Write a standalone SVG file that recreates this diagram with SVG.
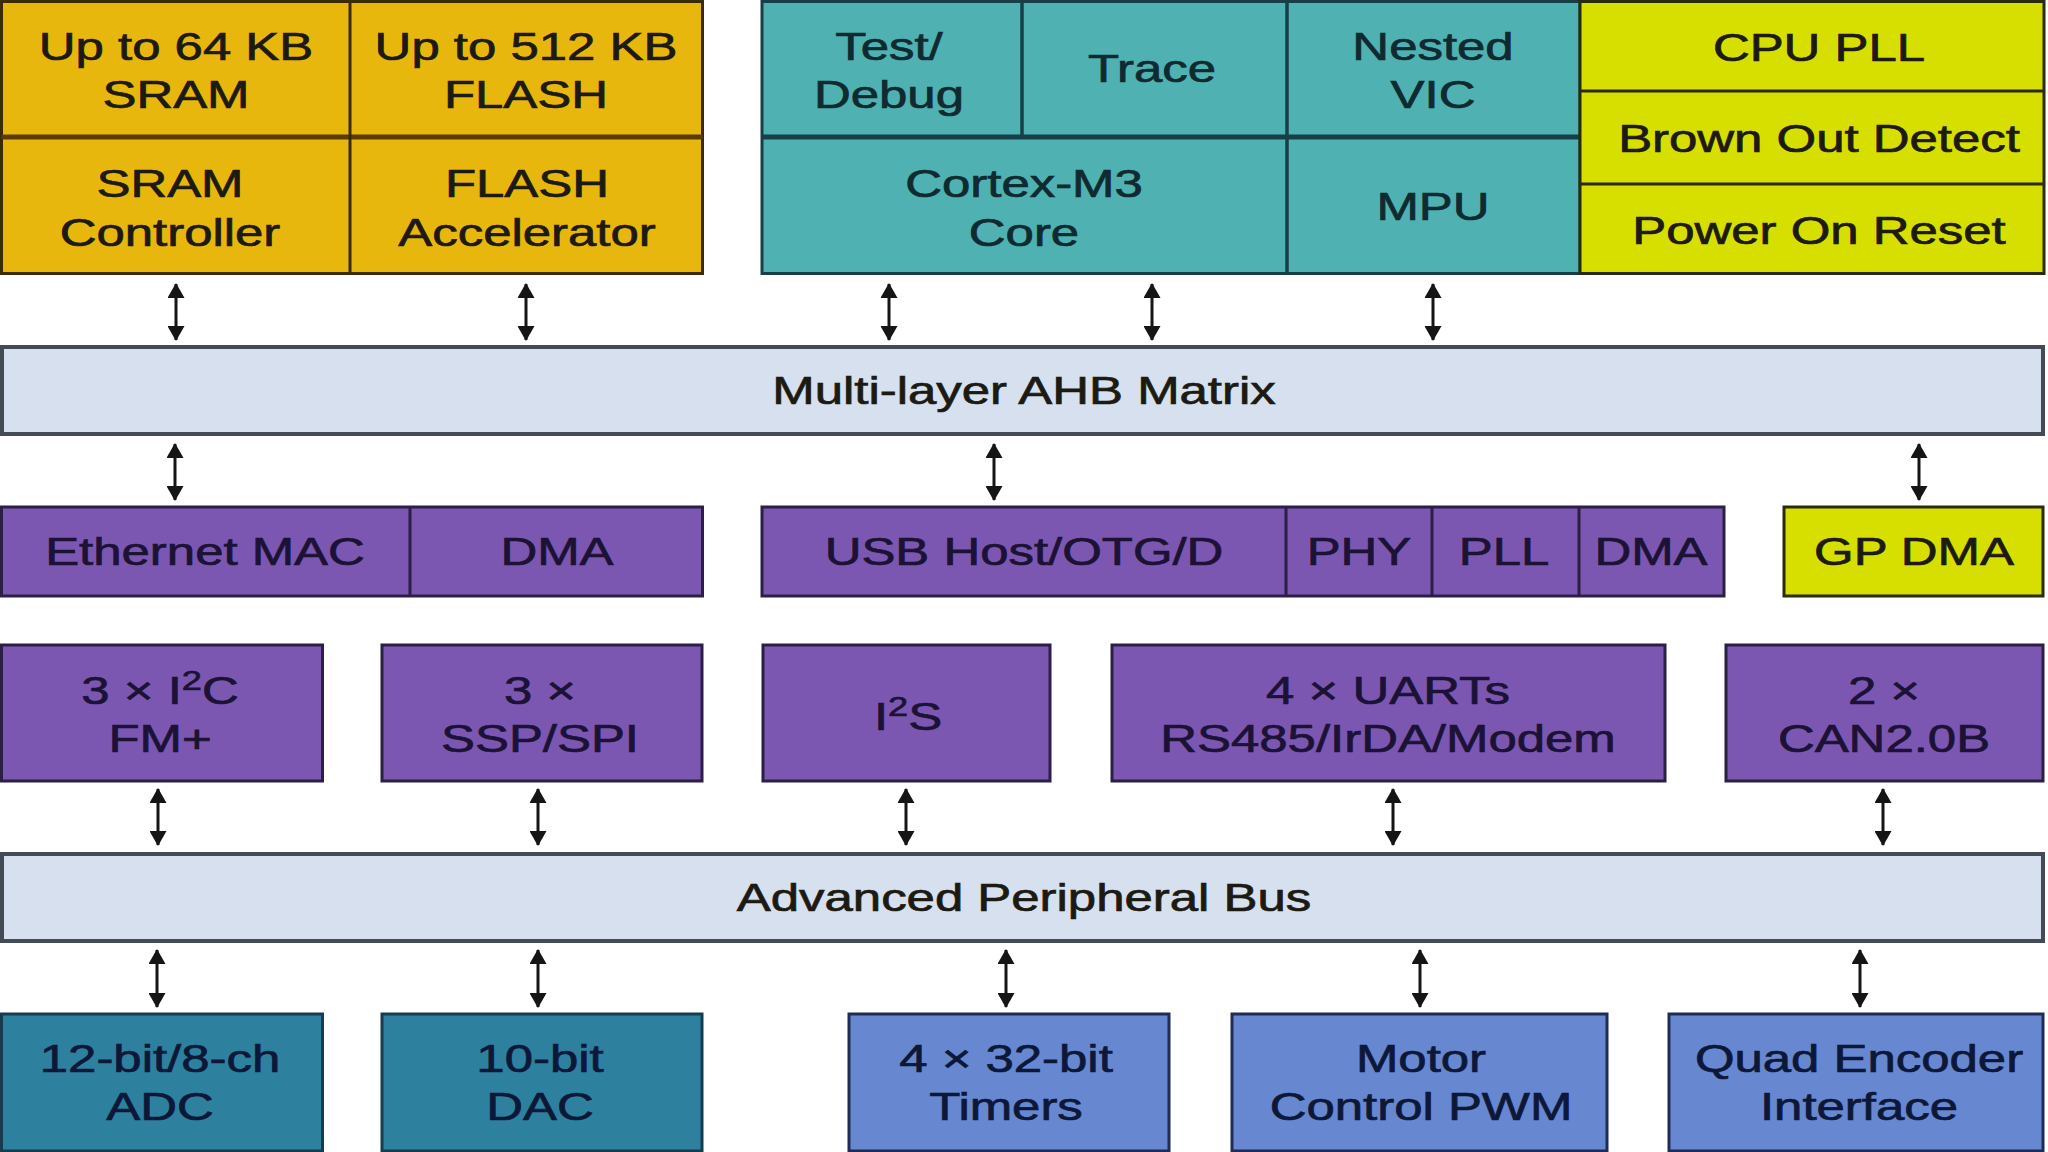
<svg xmlns="http://www.w3.org/2000/svg" width="2048" height="1152" viewBox="0 0 2048 1152">
<style>
  text { font-family: "Liberation Sans", Arial, Helvetica, sans-serif; font-size: 38px; text-anchor: middle; fill: #1c1a12; stroke: #1c1a12; stroke-width: 0.7px; }
  .mem { fill: #e8b70e; stroke: #3a2a06; stroke-width: 3; }
  .memdiv { stroke: #5a3a06; stroke-width: 5; fill: none; }
  .memv { stroke: #3a2a06; stroke-width: 3; fill: none; }
  .teal { fill: #4fb1b2; stroke: #173f48; stroke-width: 3; }
  .tealdiv { stroke: #173f48; stroke-width: 5; fill: none; }
  .tealv { stroke: #173f48; stroke-width: 3.5; fill: none; }
  .yg { fill: #d6df00; stroke: #2a2a10; stroke-width: 3; }
  .ygdiv { stroke: #2a2a10; stroke-width: 3; fill: none; }
  .bus { fill: #d6e0ee; stroke: #444b55; stroke-width: 4; }
  .pur { fill: #7c57b2; stroke: #2b1f45; stroke-width: 3; }
  .purdiv { stroke: #2b1f45; stroke-width: 3; fill: none; }
  .dk { fill: #2e809f; stroke: #173c50; stroke-width: 3; }
  .lb { fill: #6787d1; stroke: #1f2c55; stroke-width: 3; }
  text.tt { fill: #0f2a30; stroke: #0f2a30; }
  text.pt { fill: #1c1236; stroke: #1c1236; }
  text.bt { fill: #0d1838; stroke: #0d1838; }
  .conn line { stroke: #151515; stroke-width: 3; marker-start: url(#ah); marker-end: url(#ah); }
</style>
<defs>
  <marker id="ah" markerUnits="userSpaceOnUse" markerWidth="15" markerHeight="17" refX="14" refY="8.5" orient="auto-start-reverse" viewBox="0 0 15 17">
    <path d="M0,0 L15,8.5 L0,17 z" fill="#151515"/>
  </marker>
</defs>
<rect width="2048" height="1152" fill="#ffffff"/>

<!-- Memory block -->
<g id="memory">
  <rect class="mem" x="1.5" y="1.5" width="701" height="272"/>
  <line class="memdiv" x1="1.5" y1="137" x2="702.5" y2="137"/>
  <line class="memv" x1="350" y1="1.5" x2="350" y2="273.5"/>
</g>
<g id="sram">
  <text transform="translate(176,0) scale(1.34,1)"><tspan x="0" y="60">Up to 64 KB</tspan><tspan x="0" y="108">SRAM</tspan></text>
</g>
<g id="flash">
  <text transform="translate(526,0) scale(1.34,1)"><tspan x="0" y="60">Up to 512 KB</tspan><tspan x="0" y="108">FLASH</tspan></text>
</g>
<g id="sram-ctrl">
  <text transform="translate(170,0) scale(1.34,1)"><tspan x="0" y="197">SRAM</tspan><tspan x="0" y="246">Controller</tspan></text>
</g>
<g id="flash-acc">
  <text transform="translate(527,0) scale(1.34,1)"><tspan x="0" y="197">FLASH</tspan><tspan x="0" y="246">Accelerator</tspan></text>
</g>

<!-- Core block -->
<g id="core-block">
  <rect class="teal" x="762" y="1.5" width="818" height="272"/>
  <line class="tealdiv" x1="762" y1="137" x2="1580" y2="137"/>
  <line class="tealv" x1="1022" y1="1.5" x2="1022" y2="137"/>
  <line class="tealv" x1="1287" y1="1.5" x2="1287" y2="273.5"/>
</g>
<g id="test-debug">
  <text class="tt" transform="translate(889,0) scale(1.34,1)"><tspan x="0" y="60">Test/</tspan><tspan x="0" y="108">Debug</tspan></text>
</g>
<g id="trace">
  <text class="tt" transform="translate(1152,0) scale(1.34,1)"><tspan x="0" y="82">Trace</tspan></text>
</g>
<g id="nvic">
  <text class="tt" transform="translate(1433,0) scale(1.34,1)"><tspan x="0" y="60">Nested</tspan><tspan x="0" y="108">VIC</tspan></text>
</g>
<g id="cortex">
  <text class="tt" transform="translate(1024,0) scale(1.34,1)"><tspan x="0" y="197">Cortex-M3</tspan><tspan x="0" y="246">Core</tspan></text>
</g>
<g id="mpu">
  <text class="tt" transform="translate(1433,0) scale(1.34,1)"><tspan x="0" y="220">MPU</tspan></text>
</g>

<!-- Clock/power block -->
<g id="power-block">
  <rect class="yg" x="1580" y="1.5" width="464" height="272"/>
  <line class="ygdiv" x1="1580" y1="91" x2="2044" y2="91"/>
  <line class="ygdiv" x1="1580" y1="184" x2="2044" y2="184"/>
</g>
<g id="cpu-pll">
  <text transform="translate(1819,0) scale(1.34,1)"><tspan x="0" y="61">CPU PLL</tspan></text>
</g>
<g id="bod">
  <text transform="translate(1819,0) scale(1.34,1)"><tspan x="0" y="152">Brown Out Detect</tspan></text>
</g>
<g id="por">
  <text transform="translate(1819,0) scale(1.34,1)"><tspan x="0" y="244">Power On Reset</tspan></text>
</g>

<!-- AHB -->
<g id="ahb">
  <rect class="bus" x="2" y="347" width="2041" height="87"/>
  <text transform="translate(1024,0) scale(1.34,1)"><tspan x="0" y="404">Multi-layer AHB Matrix</tspan></text>
</g>

<!-- Row 3 -->
<g id="ethernet">
  <rect class="pur" x="1.5" y="507" width="701" height="89"/>
  <line class="purdiv" x1="410" y1="507" x2="410" y2="596"/>
  <text class="pt" transform="translate(205,0) scale(1.34,1)"><tspan x="0" y="565">Ethernet MAC</tspan></text>
  <text class="pt" transform="translate(557,0) scale(1.34,1)"><tspan x="0" y="565">DMA</tspan></text>
</g>
<g id="usb">
  <rect class="pur" x="762" y="507" width="962" height="89"/>
  <line class="purdiv" x1="1286" y1="507" x2="1286" y2="596"/>
  <line class="purdiv" x1="1432" y1="507" x2="1432" y2="596"/>
  <line class="purdiv" x1="1579" y1="507" x2="1579" y2="596"/>
  <text class="pt" transform="translate(1024,0) scale(1.34,1)"><tspan x="0" y="565">USB Host/OTG/D</tspan></text>
  <text class="pt" transform="translate(1359,0) scale(1.34,1)"><tspan x="0" y="565">PHY</tspan></text>
  <text class="pt" transform="translate(1504,0) scale(1.34,1)"><tspan x="0" y="565">PLL</tspan></text>
  <text class="pt" transform="translate(1651,0) scale(1.34,1)"><tspan x="0" y="565">DMA</tspan></text>
</g>
<g id="gpdma">
  <rect class="yg" x="1784" y="507" width="259" height="89"/>
  <text transform="translate(1914,0) scale(1.34,1)"><tspan x="0" y="565">GP DMA</tspan></text>
</g>

<!-- Row 4 -->
<g id="i2c">
  <rect class="pur" x="1.5" y="645" width="321" height="136"/>
  <text class="pt" transform="translate(160,0) scale(1.34,1)"><tspan x="0" y="704">3 × I<tspan dy="-14" font-size="27">2</tspan><tspan dy="14">C</tspan></tspan><tspan x="0" y="752">FM+</tspan></text>
</g>
<g id="ssp">
  <rect class="pur" x="382" y="645" width="320" height="136"/>
  <text class="pt" transform="translate(540,0) scale(1.34,1)"><tspan x="0" y="704">3 ×</tspan><tspan x="0" y="752">SSP/SPI</tspan></text>
</g>
<g id="i2s">
  <rect class="pur" x="763" y="645" width="287" height="136"/>
  <text class="pt" transform="translate(908,0) scale(1.34,1)"><tspan x="0" y="730">I<tspan dy="-14" font-size="27">2</tspan><tspan dy="14">S</tspan></tspan></text>
</g>
<g id="uart">
  <rect class="pur" x="1112" y="645" width="553" height="136"/>
  <text class="pt" transform="translate(1388,0) scale(1.34,1)"><tspan x="0" y="704">4 × UARTs</tspan><tspan x="0" y="752">RS485/IrDA/Modem</tspan></text>
</g>
<g id="can">
  <rect class="pur" x="1726" y="645" width="317" height="136"/>
  <text class="pt" transform="translate(1884,0) scale(1.34,1)"><tspan x="0" y="704">2 ×</tspan><tspan x="0" y="752">CAN2.0B</tspan></text>
</g>

<!-- APB -->
<g id="apb">
  <rect class="bus" x="2" y="854" width="2041" height="87"/>
  <text transform="translate(1024,0) scale(1.34,1)"><tspan x="0" y="911">Advanced Peripheral Bus</tspan></text>
</g>

<!-- Row 7 -->
<g id="adc">
  <rect class="dk" x="1.5" y="1014" width="321" height="137"/>
  <text class="bt" transform="translate(160,0) scale(1.34,1)"><tspan x="0" y="1072">12-bit/8-ch</tspan><tspan x="0" y="1120">ADC</tspan></text>
</g>
<g id="dac">
  <rect class="dk" x="382" y="1014" width="320" height="137"/>
  <text class="bt" transform="translate(540,0) scale(1.34,1)"><tspan x="0" y="1072">10-bit</tspan><tspan x="0" y="1120">DAC</tspan></text>
</g>
<g id="timers">
  <rect class="lb" x="849" y="1014" width="320" height="137"/>
  <text class="bt" transform="translate(1006,0) scale(1.34,1)"><tspan x="0" y="1072">4 × 32-bit</tspan><tspan x="0" y="1120">Timers</tspan></text>
</g>
<g id="pwm">
  <rect class="lb" x="1232" y="1014" width="375" height="137"/>
  <text class="bt" transform="translate(1421,0) scale(1.34,1)"><tspan x="0" y="1072">Motor</tspan><tspan x="0" y="1120">Control PWM</tspan></text>
</g>
<g id="qei">
  <rect class="lb" x="1669" y="1014" width="374" height="137"/>
  <text class="bt" transform="translate(1859,0) scale(1.34,1)"><tspan x="0" y="1072">Quad Encoder</tspan><tspan x="0" y="1120">Interface</tspan></text>
</g>

<!-- Connectors -->
<g id="connectors" class="conn">
  <line x1="176" y1="284" x2="176" y2="340"/>
  <line x1="526" y1="284" x2="526" y2="340"/>
  <line x1="889" y1="284" x2="889" y2="340"/>
  <line x1="1152" y1="284" x2="1152" y2="340"/>
  <line x1="1433" y1="284" x2="1433" y2="340"/>

  <line x1="175" y1="444" x2="175" y2="500"/>
  <line x1="994" y1="444" x2="994" y2="500"/>
  <line x1="1919" y1="444" x2="1919" y2="500"/>

  <line x1="158" y1="789" x2="158" y2="845"/>
  <line x1="538" y1="789" x2="538" y2="845"/>
  <line x1="906" y1="789" x2="906" y2="845"/>
  <line x1="1393" y1="789" x2="1393" y2="845"/>
  <line x1="1883" y1="789" x2="1883" y2="845"/>

  <line x1="157" y1="950" x2="157" y2="1007"/>
  <line x1="538" y1="950" x2="538" y2="1007"/>
  <line x1="1006" y1="950" x2="1006" y2="1007"/>
  <line x1="1420" y1="950" x2="1420" y2="1007"/>
  <line x1="1860" y1="950" x2="1860" y2="1007"/>
</g>
</svg>
